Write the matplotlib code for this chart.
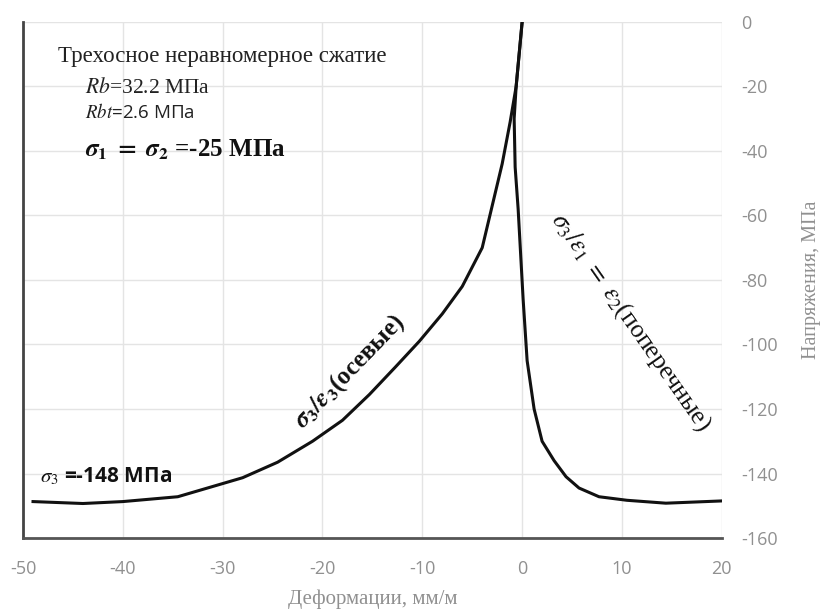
import matplotlib
matplotlib.use('Agg')
import matplotlib.pyplot as plt

# axial curve sigma3 / eps3
axial_eps = [-49, -44, -40, -34.5, -28, -24.5, -21, -18, -15.3, -12.7, -10.3, -8, -6, -4, -3, -2, -1.2, -0.6, 0]
axial_sig = [-148.7, -149.3, -148.7, -147.2, -141.3, -136.5, -130, -123.5, -115.5, -107, -99, -90.5, -82, -70, -57, -44, -31, -20, 0]

# lateral curve sigma3 / eps1 = eps2
lat_eps = [0, -0.6, -0.8, -0.7, -0.4, 0.1, 0.5, 1.2, 2, 3.2, 4.4, 5.7, 7.7, 10.5, 14.4, 20]
lat_sig = [0, -20, -30, -45, -58, -86, -105, -120, -130, -136, -141, -144.5, -147.2, -148.3, -149.2, -148.5]

x_ticks = [-50, -40, -30, -20, -10, 0, 10, 20]
y_ticks = [0, -20, -40, -60, -80, -100, -120, -140, -160]

plt.rcParams['mathtext.fontset'] = 'stix'
plt.rcParams['axes.unicode_minus'] = False
serif = ['Liberation Serif', 'DejaVu Serif']
sans = ['Open Sans', 'DejaVu Sans']
tick_col = '#909090'

fig = plt.figure(figsize=(8.23, 6.10), dpi=100)
ax = fig.add_axes([0.028, 0.118, 0.849, 0.846])

ax.plot(axial_eps, axial_sig, color='#111111', lw=2.2)
ax.plot(lat_eps, lat_sig, color='#111111', lw=2.2)

ax.set_xlim(-50, 20)
ax.set_ylim(-160, 0)
ax.set_xticks(x_ticks)
ax.set_yticks(y_ticks)
ax.grid(True, color='#e4e4e4', lw=1)
ax.set_axisbelow(True)

ax.yaxis.tick_right()
ax.yaxis.set_label_position('right')
ax.tick_params(length=0, labelcolor=tick_col, labelsize=13)
ax.tick_params(axis='x', pad=16)
ax.tick_params(axis='y', pad=14)
for lab in ax.get_xticklabels() + ax.get_yticklabels():
    lab.set_family(sans)
for lab in ax.get_yticklabels():
    lab.set_horizontalalignment('left')

for s in ['top', 'right']:
    ax.spines[s].set_visible(False)
ax.spines['left'].set_color('#444444')
ax.spines['left'].set_linewidth(2)
ax.spines['bottom'].set_color('#555555')
ax.spines['bottom'].set_linewidth(2)

ax.set_xlabel('Деформации, мм/м', family=serif, color=tick_col, fontsize=15, labelpad=8)
ax.set_ylabel('Напряжения, МПа', family=serif, color=tick_col, fontsize=14.5, labelpad=17)

# annotations
ax.text(0.05, 0.934, 'Трехосное неравномерное сжатие', transform=ax.transAxes,
        family=serif, fontsize=16.5, color='#222222', va='center')
ax.text(0.089, 0.872, r'$Rb$=32.2 МПа', transform=ax.transAxes,
        family=serif, fontsize=15.5, color='#222222', va='center')
ax.text(0.089, 0.824, r'$Rbt$=2.6 МПа', transform=ax.transAxes,
        family=sans, fontsize=13.5, color='#222222', va='center')
ax.text(0.089, 0.752, r'$\mathbfit{\sigma}_\mathbf{1}\ \mathbf{=}\ \mathbfit{\sigma}_\mathbf{2}$ =-25 МПа',
        transform=ax.transAxes, family=serif, fontsize=18, fontweight='bold',
        color='#111111', va='center')
ax.text(0.024, 0.12, r'$\sigma_3$ =-148 МПа', transform=ax.transAxes,
        family=sans, fontsize=15, fontweight='bold', color='#111111', va='center')

ax.text(-17.3, -108.5, r'$\mathbfit{\sigma}_\mathbf{3}\mathbf{/}\mathbfit{\varepsilon}_\mathbf{3}$(осевые)',
        family=serif, fontsize=18, fontweight='bold', color='#111111', rotation=46,
        ha='center', va='center', rotation_mode='anchor')
ax.text(10.9, -93, r'$\sigma_3/\varepsilon_1\ =\ \varepsilon_2$(поперечные)', family=serif,
        fontsize=18.5, color='#111111', rotation=-55,
        ha='center', va='center', rotation_mode='anchor')

fig.savefig('out.png', dpi=100)
